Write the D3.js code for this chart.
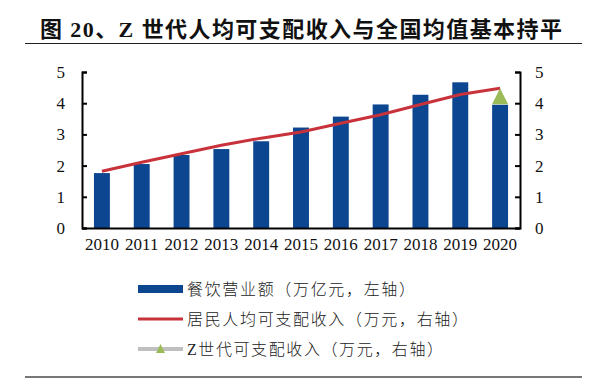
<!DOCTYPE html>
<html>
<head>
<meta charset="utf-8">
<script src="https://cdn.jsdelivr.net/npm/d3@7"></script>
<style>
  body { margin: 0; background: #fff; }
  svg { display: block; }
  .axis text { font-family: "Liberation Serif", "Times New Roman", serif; font-size: 17px; fill: #111; }
</style>
</head>
<body>
<div id="chart"></div>
<script>
const years = ['2010', '2011', '2012', '2013', '2014', '2015', '2016', '2017', '2018', '2019', '2020'];
const cateringRevenue = [1.76, 2.05, 2.34, 2.53, 2.78, 3.22, 3.57, 3.96, 4.27, 4.67, 3.95];
const incomePerCapita = [1.82, 2.11, 2.38, 2.65, 2.88, 3.08, 3.36, 3.63, 3.96, 4.28, 4.48];
const genZIncome = [{ year: '2020', value: 4.22 }];
const yTicks = [0, 1, 2, 3, 4, 5];

const titleText = '图 20、Z 世代人均可支配收入与全国均值基本持平';
const legendItems = [
	{ label: '餐饮营业额（万亿元，左轴）', type: 'bar', len: 228 },
	{ label: '居民人均可支配收入（万元，右轴）', type: 'line', len: 281 },
	{ label: 'Z世代可支配收入（万元，右轴）', type: 'marker', len: 256 }
];

const width = 599, height = 384;
const margin = { top: 72, right: 79, bottom: 156, left: 82 };
const blue = '#0d4690', red = '#c8323a', green = '#9bbb59', grey = '#bfbfbf';

const svg = d3.select('#chart')
	.append('svg')
	.attr('width', width)
	.attr('height', height);

// title + rules
svg.append('text')
	.attr('x', 40)
	.attr('y', 37)
	.attr('textLength', 522)
	.attr('lengthAdjust', 'spacing')
	.style('font-family', '"Liberation Serif", "Noto Sans CJK SC", serif')
	.style('font-weight', 'bold')
	.style('font-size', '22px')
	.style('fill', '#111')
	.text(titleText);

svg.append('line')
	.attr('x1', 25).attr('x2', 582)
	.attr('y1', 43.5).attr('y2', 43.5)
	.attr('stroke', '#222')
	.attr('stroke-width', 1.2);

svg.append('line')
	.attr('x1', 25).attr('x2', 582)
	.attr('y1', 377).attr('y2', 377)
	.attr('stroke', '#777')
	.attr('stroke-width', 2);

const x = d3.scaleBand()
	.domain(years)
	.range([margin.left, width - margin.right])
	.paddingInner(0.6)
	.paddingOuter(0.3);

const yLeft = d3.scaleLinear()
	.domain([0, 5])
	.range([height - margin.bottom, margin.top]);

const yRight = d3.scaleLinear()
	.domain([0, 5])
	.range([height - margin.bottom, margin.top]);

const cx = d => x(d) + x.bandwidth() / 2;

// triangle centred on its bounding box, w wide and h tall
const triangle = (w, h) => `M0,${-h / 2}L${w / 2},${h / 2}L${-w / 2},${h / 2}Z`;

// bars
svg.append('g')
	.selectAll('rect')
	.data(years)
	.join('rect')
	.attr('x', d => x(d))
	.attr('width', x.bandwidth())
	.attr('y', (d, i) => yLeft(cateringRevenue[i]))
	.attr('height', (d, i) => yLeft(0) - yLeft(cateringRevenue[i]))
	.attr('fill', blue);

// income line
const line = d3.line()
	.x((d, i) => cx(years[i]))
	.y(d => yRight(d));

svg.append('path')
	.datum(incomePerCapita)
	.attr('d', line)
	.attr('fill', 'none')
	.attr('stroke', red)
	.attr('stroke-width', 3);

// gen Z marker
svg.append('g')
	.selectAll('path')
	.data(genZIncome)
	.join('path')
	.attr('d', triangle(16, 16))
	.attr('transform', d => `translate(${cx(d.year)},${yRight(d.value)})`)
	.attr('fill', green);

// axes
const fmt = d3.format('d');

svg.append('g')
	.attr('class', 'axis')
	.attr('transform', `translate(${margin.left},0)`)
	.call(d3.axisLeft(yLeft).tickValues(yTicks).tickFormat(fmt).tickSize(-5).tickPadding(17))
	.call(g => g.selectAll('line, path').attr('stroke', '#000').attr('stroke-width', 2));

svg.append('g')
	.attr('class', 'axis')
	.attr('transform', `translate(${width - margin.right},0)`)
	.call(d3.axisRight(yRight).tickValues(yTicks).tickFormat(fmt).tickSize(-5).tickPadding(15))
	.call(g => g.selectAll('line, path').attr('stroke', '#000').attr('stroke-width', 2));

svg.append('g')
	.attr('class', 'axis')
	.attr('transform', `translate(0,${height - margin.bottom})`)
	.call(d3.axisBottom(x).tickSize(0).tickPadding(10).tickSizeOuter(0))
	.call(g => g.select('.domain').attr('stroke', '#000').attr('stroke-width', 2));

// legend
const legend = svg.append('g')
	.selectAll('g')
	.data(legendItems)
	.join('g')
	.attr('transform', (d, i) => `translate(138,${[289, 319, 349][i]})`);

legend.filter(d => d.type === 'bar')
	.append('rect')
	.attr('x', 0).attr('y', -4)
	.attr('width', 45).attr('height', 8)
	.attr('fill', blue);

legend.filter(d => d.type === 'line')
	.append('line')
	.attr('x1', 0).attr('x2', 45)
	.attr('stroke', red)
	.attr('stroke-width', 3);

legend.filter(d => d.type === 'marker')
	.call(g => g.append('line')
		.attr('x1', 0).attr('x2', 45)
		.attr('stroke', grey)
		.attr('stroke-width', 4))
	.call(g => g.append('path')
		.attr('d', triangle(9, 9))
		.attr('transform', 'translate(22.5,-0.5)')
		.attr('fill', green));

legend.append('text')
	.attr('x', 49)
	.attr('y', 6)
	.attr('textLength', d => d.len)
	.attr('lengthAdjust', 'spacing')
	.style('font-family', '"Liberation Serif", "Noto Sans CJK SC", serif')
	.style('font-size', '16px')
	.style('font-weight', 300)
	.style('fill', '#222')
	.text(d => d.label);
</script>
</body>
</html>
